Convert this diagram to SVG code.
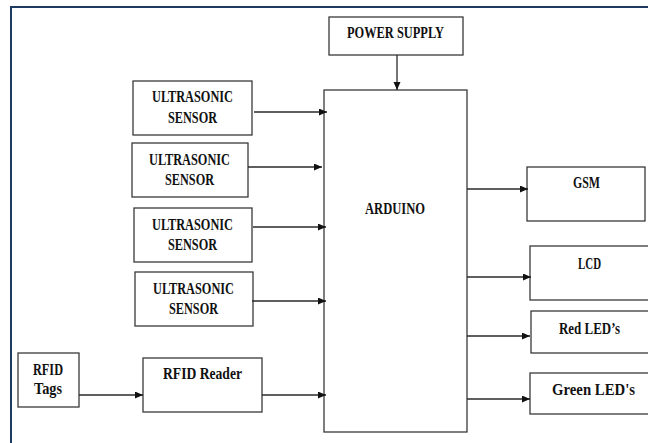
<svg xmlns="http://www.w3.org/2000/svg" width="648" height="443" viewBox="0 0 648 443">
<style>
.frame{fill:none;stroke:#1f3a60;stroke-width:2}
.box{fill:#fff;stroke:#3a3a3a;stroke-width:1.3}
.lbl{font-family:"Liberation Serif","Times New Roman",serif;font-weight:bold;font-size:16.5px;fill:#111}
.conn{stroke:#2a2a2a;stroke-width:1.3;fill:none;marker-end:url(#arr)}
</style>
<defs>
<marker id="arr" markerUnits="userSpaceOnUse" markerWidth="9" markerHeight="8" refX="8" refY="3.5" orient="auto">
<path d="M0,0 L8,3.5 L0,7 z" fill="#111"/>
</marker>
</defs>
<rect width="648" height="443" fill="#fff"/>
<path class="frame" d="M11,443 V7 H648"/>

<g id="power">
<rect class="box" x="329" y="17" width="134" height="38"/>
<text class="lbl" x="347" y="38" textLength="97" lengthAdjust="spacingAndGlyphs">POWER SUPPLY</text>
</g>
<g id="us1">
<rect class="box" x="133" y="81" width="119" height="54"/>
<text class="lbl" x="152" y="102" textLength="81" lengthAdjust="spacingAndGlyphs">ULTRASONIC</text>
<text class="lbl" x="168" y="123" textLength="49" lengthAdjust="spacingAndGlyphs">SENSOR</text>
</g>
<g id="us2">
<rect class="box" x="132" y="143" width="116" height="54"/>
<text class="lbl" x="149" y="165" textLength="81" lengthAdjust="spacingAndGlyphs">ULTRASONIC</text>
<text class="lbl" x="165" y="185" textLength="49" lengthAdjust="spacingAndGlyphs">SENSOR</text>
</g>
<g id="us3">
<rect class="box" x="134" y="208" width="118" height="54"/>
<text class="lbl" x="152" y="230" textLength="81" lengthAdjust="spacingAndGlyphs">ULTRASONIC</text>
<text class="lbl" x="168" y="250" textLength="49" lengthAdjust="spacingAndGlyphs">SENSOR</text>
</g>
<g id="us4">
<rect class="box" x="135" y="272" width="118" height="54"/>
<text class="lbl" x="153" y="294" textLength="81" lengthAdjust="spacingAndGlyphs">ULTRASONIC</text>
<text class="lbl" x="169" y="314" textLength="49" lengthAdjust="spacingAndGlyphs">SENSOR</text>
</g>
<g id="tags">
<rect class="box" x="18" y="353" width="61" height="54"/>
<text class="lbl" x="33" y="375" textLength="30" lengthAdjust="spacingAndGlyphs">RFID</text>
<text class="lbl" x="34" y="394" textLength="28" lengthAdjust="spacingAndGlyphs">Tags</text>
</g>
<g id="reader">
<rect class="box" x="143" y="358" width="119" height="54"/>
<text class="lbl" x="163" y="379" textLength="79" lengthAdjust="spacingAndGlyphs">RFID Reader</text>
</g>
<g id="arduino">
<rect class="box" x="324" y="90" width="143" height="342"/>
<text class="lbl" x="365" y="214" textLength="60" lengthAdjust="spacingAndGlyphs">ARDUINO</text>
</g>
<g id="gsm">
<rect class="box" x="527" y="167" width="118" height="54"/>
<text class="lbl" x="573" y="188" textLength="27" lengthAdjust="spacingAndGlyphs">GSM</text>
</g>
<g id="lcd">
<rect class="box" x="530" y="246" width="130" height="54"/>
<text class="lbl" x="578" y="269" textLength="23" lengthAdjust="spacingAndGlyphs">LCD</text>
</g>
<g id="red">
<rect class="box" x="531" y="311" width="130" height="42"/>
<text class="lbl" x="559" y="334" textLength="61" lengthAdjust="spacingAndGlyphs">Red LED’s</text>
</g>
<g id="green">
<rect class="box" x="530" y="373" width="130" height="41"/>
<text class="lbl" x="552" y="395" textLength="83" lengthAdjust="spacingAndGlyphs">Green LED's</text>
</g>

<g id="connectors">
<line class="conn" x1="397" y1="55" x2="397" y2="90"/>
<line class="conn" x1="254" y1="112" x2="327" y2="112"/>
<line class="conn" x1="248" y1="167" x2="322" y2="167"/>
<line class="conn" x1="253" y1="227" x2="326" y2="227"/>
<line class="conn" x1="252" y1="301" x2="326" y2="301"/>
<line class="conn" x1="79" y1="395" x2="143" y2="395"/>
<line class="conn" x1="262" y1="395" x2="326" y2="395"/>
<line class="conn" x1="467" y1="189" x2="528" y2="189"/>
<line class="conn" x1="467" y1="277" x2="531" y2="277"/>
<line class="conn" x1="467" y1="336" x2="530" y2="336"/>
<line class="conn" x1="467" y1="399" x2="530" y2="399"/>
</g>
</svg>
